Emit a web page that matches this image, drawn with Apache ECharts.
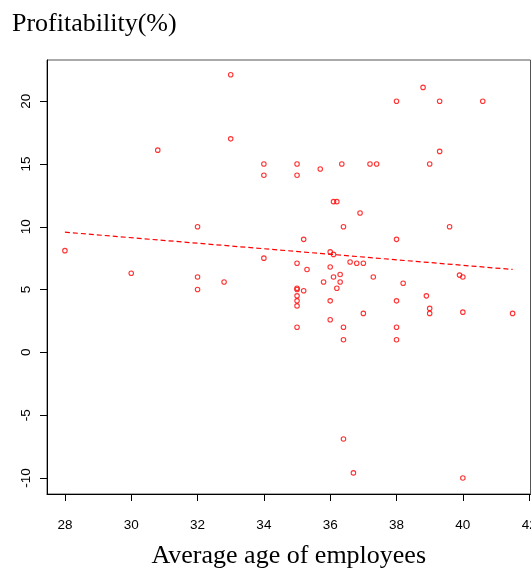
<!DOCTYPE html>
<html>
<head>
<meta charset="utf-8">
<script src="https://cdn.jsdelivr.net/npm/echarts@6/dist/echarts.min.js"></script>
<style>html,body{margin:0;padding:0;background:#fff;}#c{width:531px;height:569px;}</style>
</head>
<body>
<div id="c"></div>
<script>
const ages = [
  30.8, 32, 28, 33, 33, 34, 34, 35, 35, 35.7,
  36.35, 37.2, 37.4, 36.1, 36.2, 36.9, 36.4, 35.2, 36, 36.1,
  38.8, 38, 39.3, 40.6, 39.3, 39, 39.6, 38, 30, 32,
  32, 34, 35, 35.3, 36, 36.6, 36.8, 37, 32.8, 36.1,
  36.3, 35.8, 36.3, 35, 35, 35.2, 36.2, 35, 35, 35,
  36, 37, 36, 35, 36.4, 36.4, 36.4, 37.3, 38.2, 38.9,
  38, 39.9, 40, 39, 39, 40, 41.5, 38, 38, 36.7,
  40
];
const profit = [
  16.1, 10, 8.1, 22.1, 17, 15, 14.1, 15, 14.1, 14.6,
  15, 15, 15, 12, 12, 11.1, 10, 9, 8, 7.8,
  21.1, 20, 20, 20, 16, 15, 10, 9, 6.3, 6,
  5, 7.5, 7.1, 6.6, 6.8, 7.2, 7.1, 7.1, 5.6, 6,
  6.2, 5.6, 5.6, 5.1, 5, 4.9, 5.1, 4.5, 4.1, 3.7,
  4.1, 3.1, 2.6, 2, 2, 1, -6.9, 6, 5.5, 4.5,
  4.1, 6.15, 6, 3.5, 3.1, 3.2, 3.1, 2, 1, -9.6,
  -10
];
const trendX = [28, 41.5];
const trendY = [9.57, 6.6];
const xTicks = [28, 30, 32, 34, 36, 38, 40, 42];
const yTicks = [-10, -5, 0, 5, 10, 15, 20];

const scatterData = ages.map((a, i) => [a, profit[i]]);
const trendData = trendX.map((x, i) => [x, trendY[i]]);

const chart = echarts.init(document.getElementById('c'), null, {renderer: 'canvas'});
chart.setOption({
  animation: false,
  backgroundColor: '#fff',
  title: {
    text: 'Profitability(%)',
    left: 7, top: 6,
    textStyle: {fontFamily: 'Liberation Serif', fontSize: 26, fontWeight: 'normal', color: '#000'}
  },
  grid: {
    left: 47, top: 60, width: 483.5, height: 434,
    outerBoundsMode: 'none', containLabel: false,
    show: true, borderColor: '#555', borderWidth: 1, backgroundColor: 'transparent'
  },
  xAxis: {
    type: 'value', min: 27.46, max: 42.04,
    name: 'Average age of employees', nameLocation: 'middle', nameGap: 49,
    nameTextStyle: {fontFamily: 'Liberation Serif', fontSize: 26, color: '#000'},
    axisLine: {show: true, onZero: false, lineStyle: {color: '#000', width: 1}},
    axisTick: {show: true, length: 7, customValues: xTicks, lineStyle: {color: '#000'}},
    axisLabel: {customValues: xTicks, margin: 24, fontFamily: 'Liberation Sans', fontSize: 13.5, color: '#000'},
    splitLine: {show: false}
  },
  yAxis: {
    type: 'value', min: -11.28, max: 23.28,
    axisLine: {show: true, onZero: false, lineStyle: {color: '#000', width: 1}},
    axisTick: {show: true, length: 7, customValues: yTicks, lineStyle: {color: '#000'}},
    axisLabel: {customValues: yTicks, rotate: 90, margin: 14, fontFamily: 'Liberation Sans', fontSize: 13.5, color: '#000'},
    splitLine: {show: false}
  },
  series: [
    {
      type: 'scatter', data: scatterData, symbol: 'circle', symbolSize: 4.5,
      itemStyle: {color: 'rgba(0,0,0,0)', borderColor: '#ff0000', borderWidth: 1.1}
    },
    {
      type: 'line', data: trendData, symbol: 'none',
      lineStyle: {color: '#ff0000', width: 1.2, type: [5, 3]}
    }
  ]
});
</script>
</body>
</html>
